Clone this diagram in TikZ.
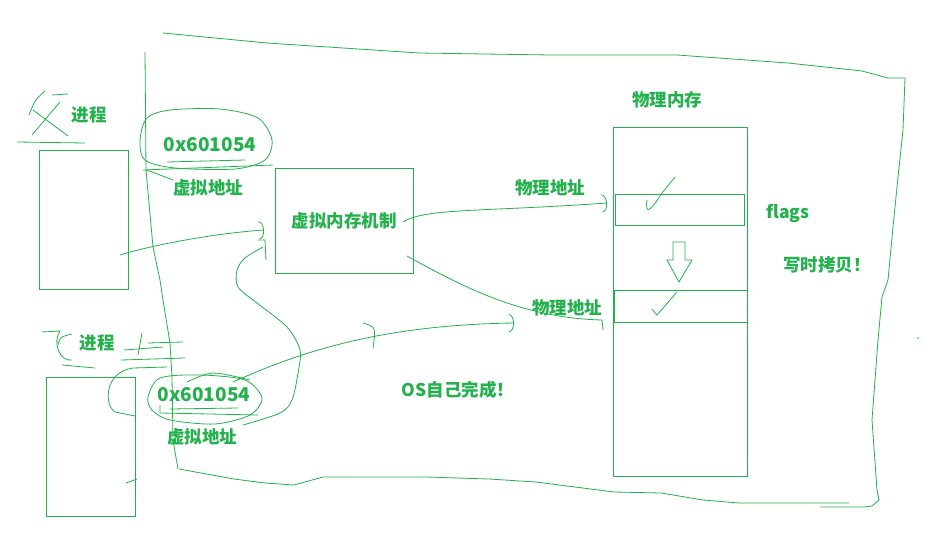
\documentclass[tikz,border=0pt]{standalone}
\usepackage{fontspec}
\newfontfamily\cjk{Noto Sans CJK SC}
\usetikzlibrary{arrows.meta}
\definecolor{paint}{RGB}{34,177,76}
\tikzset{
  lbl/.style={text=paint,inner sep=0,font=\cjk\bfseries\fontsize{17.5}{20}\selectfont},
  addr/.style={font=\cjk\bfseries\fontsize{19}{22}\selectfont},
  box/.style={draw=paint,inner sep=0},
  hook/.style={-{Arc Barb[length=5pt,width=18pt]}}
}
\begin{document}
\begin{tikzpicture}[x=1pt,y=-1pt,color=paint,line width=0.8pt]
	\useasboundingbox (0,0) rectangle (946,544);
	% hand drawn outline
	\draw (163,33)--(267,43)--(419,53)--(551,55)--(677,55)--(788,63)--(862,71)--(888,78)--(905,78)--(903,130)--(898,177)--(893,227)--(888,280)--(882,297)--(878,340)--(872,420)--(877,490)--(879,500)--(872,506)--(864,507)--(820,507);
	\draw (849,503)--(739,503)--(703,500)--(661,493)--(614,492)--(536,482)--(489,479)--(427,477)--(323,477)--(294,485)--(265,483)--(234,479)--(179,469);
	\draw (145,52)--(146,170)--(153,247)--(160,280)--(163,300)--(170,343)--(172,377)--(173,440)--(178,469);
	% processes
	\node[box,minimum width=89,minimum height=139] (parent) at (83.5,219.5) {};
	\node[lbl] (parentlbl) at (89,115) {进程};
	\draw (45,91)..controls(35,100)..(29,115); \draw (52,95)--(68,94); \draw (60,102)--(32,135); \draw (33,110)--(68,136); \draw (17,142)--(85,143);
	\node[box,minimum width=89,minimum height=139] (child) at (90.5,446.5) {};
	\node[lbl] (childlbl) at (97,343) {进程};
	\draw (42,332)--(60,331)..controls(52,343)and(60,362)..(72,360); \draw (72,334)..controls(60,337)..(58,345); \draw (62,365)--(95,368);
	\draw (142,333)--(138,355); \draw (148,343)--(183,342); \draw (124,350)--(163,347); \draw (121,360)--(185,358);
	\draw (167,367)--(133,368)..controls(104,372)and(104,405)..(115,412)--(135,416); \draw (126,483)--(137,479);
	% virtual addresses
	\node[lbl,addr] (vaddra) at (210,145) {0x601054};
	\node[lbl] (vnamea) at (208,188) {虚拟地址};
	\draw plot[smooth cycle] coordinates {(140,140) (147,118) (170,110) (220,109) (258,118) (272,140) (265,160) (235,169) (175,168) (145,160)};
	\draw (167,162)--(245,160); \draw (143,170)--(273,165); \draw (147,170)--(173,180);
	\node[lbl,addr] (vaddrb) at (204,395) {0x601054};
	\node[lbl] (vnameb) at (202,437) {虚拟地址};
	\draw plot[smooth cycle] coordinates {(148,397) (160,378) (200,375) (245,380) (262,398) (250,415) (215,424) (170,420) (152,410)};
	\draw plot[smooth] coordinates {(187,382) (213,373) (250,380)};
	\draw (170,409)--(238,408); \draw (160,405)--(160,413)--(258,415);
	% mechanism
	\node[box,lbl,minimum width=138,minimum height=105] (vm) at (344,220.5) {虚拟内存机制};
	\node[lbl] (os) at (458,390) {OS自己完成！};
	% physical memory
	\node[lbl] (memlbl) at (667,100) {物理内存};
	\node[box,minimum width=134,minimum height=349] (mem) at (680,301.5) {};
	\node[box,minimum width=129,minimum height=31] (slota) at (679.5,209.5) {};
	\node[box,minimum width=133,minimum height=32] (slotb) at (680.5,306) {};
	\draw (647,200)..controls(645,215)and(650,212)..(662,193)--(675,177);
	\draw (652,309)--(657,315)--(677,292);
	\draw (673,242)--(685,242)--(685,260)--(692,260)--(679,282)--(667,260)--(673,260)--cycle;
	\node[lbl] (flags) at (788,213) {flags};
	\node[lbl] (cow) at (827,265) {写时拷贝！};
	\node[lbl] (paddra) at (550,188) {物理地址};
	\node[lbl] (paddrb) at (567,308) {物理地址};
	\fill (918,338) circle (0.8);
	% connectors
	\coordinate (pa) at (120,255); \coordinate (vmin) at (264,230);
	\draw[hook] (pa)..controls(160,243)and(220,233)..(vmin);
	\coordinate (vmouta) at (403,222); \coordinate (slotin) at (607,203);
	\draw[hook] (vmouta)..controls(425,208)and(480,212)..(slotin);
	\coordinate (vmoutb) at (407,256); \coordinate (slotbin) at (602,320);
	\draw (vmoutb)..controls(460,285)and(520,318)..(slotbin)--++(1,10);
	\coordinate (vb) at (233,382); \coordinate (phb) at (514,323);
	\draw[hook] (vb)..controls(300,352)and(380,325)..(phb);
	\draw (363,323)..controls(376,327)..(373,348);
	\draw plot[smooth] coordinates {(243,425) (280,413) (292,400) (298,373) (300,350) (287,327) (257,303) (238,287) (237,270) (245,258) (263,247)};
	\draw (258,240)--(265,240)--(266,260);
\end{tikzpicture}
\end{document}
